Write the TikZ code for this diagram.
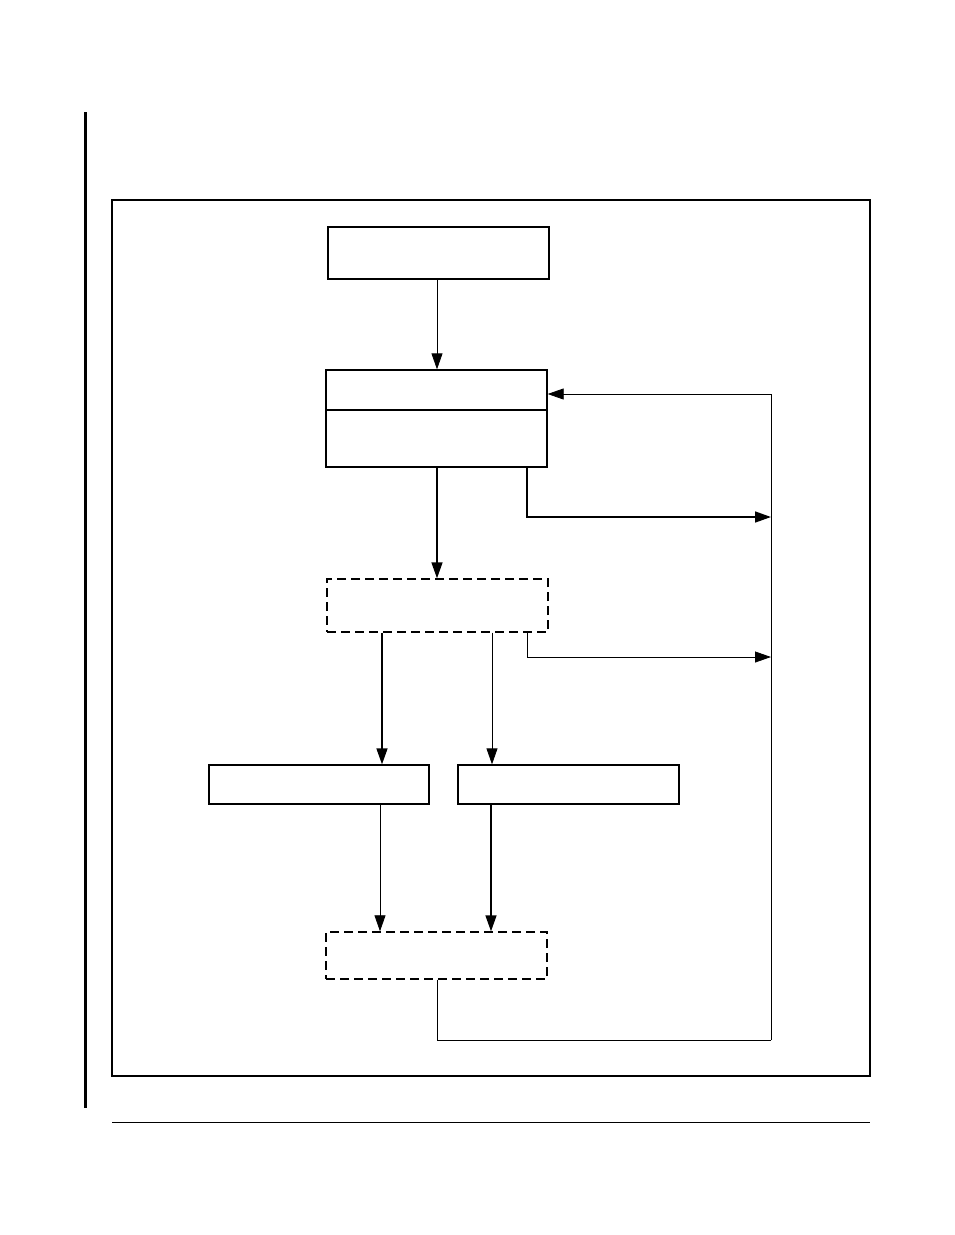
\documentclass[tikz,border=0pt]{standalone}
\usetikzlibrary{arrows.meta}
\begin{document}
\begin{tikzpicture}[x=1pt,y=-1pt,
  box/.style={draw,line width=1.3pt},
  dbox/.style={draw,line width=1.4pt,dash pattern=on 9pt off 5pt},
  ar/.style={-{Triangle[length=16pt,width=11pt]},line width=0.8pt},
  tar/.style={-{Triangle[length=16pt,width=11pt]},line width=1.6pt}]
\useasboundingbox (0,0) rectangle (954,1235);
\draw[line width=3pt] (85,112) -- (85,1108);
\draw[line width=1.5pt] (112,200) rectangle (870,1076);
\draw[line width=0.8pt] (112,1122) -- (870,1122);
\node[box,minimum width=221pt,minimum height=52pt,inner sep=0] (A) at (438.5,253) {};
\node[box,minimum width=221pt,minimum height=97pt,inner sep=0] (B) at (436.5,418.5) {};
\draw[line width=1.3pt] (B.west |- 0,410) -- (B.east |- 0,410);
\node[dbox,minimum width=221pt,minimum height=53pt,inner sep=0] (C) at (437.5,605.5) {};
\node[box,minimum width=220pt,minimum height=39pt,inner sep=0] (D) at (319,784.5) {};
\node[box,minimum width=221pt,minimum height=39pt,inner sep=0] (E) at (568.5,784.5) {};
\node[dbox,minimum width=221pt,minimum height=47pt,inner sep=0] (F) at (436.5,955.5) {};
\coordinate (R1) at (771,394);
\coordinate (R2) at (771,517);
\coordinate (R3) at (771,657);
\coordinate (R4) at (771,1040);
\draw[ar] (A.south -| 437,0) -- (B.north -| 437,0);
\draw[line width=0.8pt] (R4) -- (R1);
\draw[ar] (R1) -- (B.east |- R1);
\draw[tar] (B.south -| 437,0) -- (C.north -| 437,0);
\draw[tar] (B.south -| 527,0) -- (527,517) -- (R2);
\draw[ar] (C.south -| 527,0) -- (527,657) -- (R3);
\draw[tar] (C.south -| 382,0) -- (D.north -| 382,0);
\draw[ar] (C.south -| 492,0) -- (E.north -| 492,0);
\draw[ar] (D.south -| 380,0) -- (F.north -| 380,0);
\draw[tar] (E.south -| 491,0) -- (F.north -| 491,0);
\draw[line width=0.8pt] (F.south -| 437,0) -- (437,1040) -- (R4);
\end{tikzpicture}
\end{document}
